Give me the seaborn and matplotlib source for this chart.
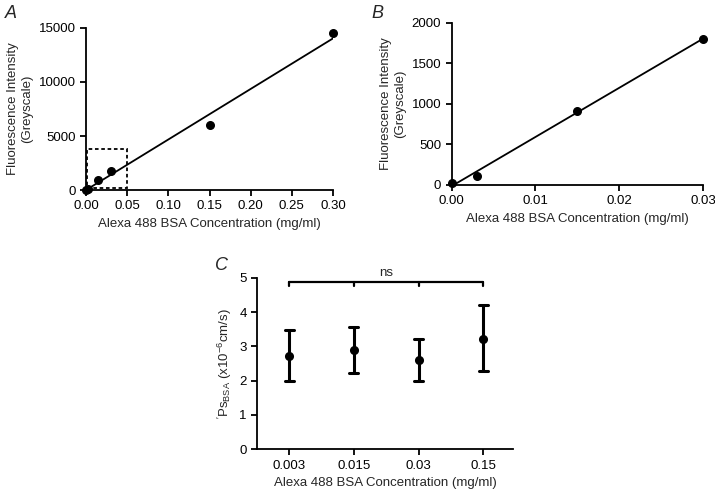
import numpy as np
import pandas as pd
import matplotlib
matplotlib.use("Agg")
import matplotlib.pyplot as plt
import matplotlib.patches as patches
import seaborn as sns

# panel A: full calibration range
conc_a = [0.0, 0.003, 0.015, 0.03, 0.15, 0.30]
fluor_a = [0, 100, 900, 1800, 6000, 14500]

# panel B: low range (dashed box in A)
conc_b = [0.0, 0.003, 0.015, 0.03]
fluor_b = [30, 110, 910, 1800]

# panel C: permeability per concentration (mean with lower/upper bars)
conc_c = ["0.003", "0.015", "0.03", "0.15"]
ps_mean = [2.72, 2.89, 2.60, 3.22]
ps_low = [2.00, 2.21, 2.00, 2.28]
ps_high = [3.48, 3.57, 3.20, 4.19]

sns.set_style("ticks")
plt.rcParams['font.family'] = ['Liberation Sans', 'DejaVu Sans']
plt.rcParams['mathtext.fontset'] = 'custom'
plt.rcParams['mathtext.rm'] = 'Liberation Sans'
plt.rcParams['mathtext.it'] = 'Liberation Sans:italic'
fs = 9.5
lw = 1.3

fig = plt.figure(figsize=(7.15, 4.92), dpi=100)
ax_a = fig.add_axes([0.1203, 0.6138, 0.3455, 0.3293])
ax_b = fig.add_axes([0.6317, 0.6240, 0.3515, 0.3300])
ax_c = fig.add_axes([0.3599, 0.0868, 0.3576, 0.3488])

xlabel = "Alexa 488 BSA Concentration (mg/ml)"
ylabel = "Fluorescence Intensity\n(Greyscale)"


def style_axes(ax):
    sns.despine(ax=ax)
    for s in ['left', 'bottom']:
        ax.spines[s].set_linewidth(lw)
        ax.spines[s].set_color('black')
    ax.tick_params(direction='out', length=4, width=lw, labelsize=fs, colors='black')


# --- A
sns.regplot(x=conc_a, y=fluor_a, ax=ax_a, ci=None, color='black',
            scatter_kws={'s': 30, 'clip_on': False, 'zorder': 3, 'alpha': 1},
            line_kws={'linewidth': lw})
# zoom box marking the range shown in B
ax_a.add_patch(patches.Rectangle((0.001, 150), 0.049, 3650, fill=False, linestyle=(0, (2, 1.5)),
                                 linewidth=lw, edgecolor='black', clip_on=False, zorder=4))
ax_a.set_xlim(0, 0.30)
ax_a.set_ylim(0, 15000)
ax_a.set_xticks(np.arange(0, 0.301, 0.05))
ax_a.set_xticklabels([f"{v:.2f}" for v in np.arange(0, 0.301, 0.05)])
ax_a.set_yticks([0, 5000, 10000, 15000])
ax_a.set_xlabel(xlabel, fontsize=fs)
ax_a.set_ylabel(ylabel, fontsize=fs)
style_axes(ax_a)

# --- B
sns.regplot(x=conc_b, y=fluor_b, ax=ax_b, ci=None, color='black',
            scatter_kws={'s': 30, 'clip_on': False, 'zorder': 3, 'alpha': 1},
            line_kws={'linewidth': lw})
ax_b.set_xlim(0, 0.03)
ax_b.set_ylim(0, 2000)
ax_b.set_xticks([0, 0.01, 0.02, 0.03])
ax_b.set_xticklabels(["0.00", "0.01", "0.02", "0.03"])
ax_b.set_yticks([0, 500, 1000, 1500, 2000])
ax_b.set_xlabel(xlabel, fontsize=fs)
ax_b.set_ylabel(ylabel, fontsize=fs)
style_axes(ax_b)

# --- C: median of (low, mean, high) with full-range bars
df_c = pd.DataFrame({
    'conc': conc_c * 3,
    'ps': ps_low + ps_mean + ps_high,
})
sns.pointplot(data=df_c, x='conc', y='ps', order=conc_c, ax=ax_c, color='black',
              estimator=np.median, errorbar=('pi', 100), linestyle='none',
              capsize=0.14, markersize=4.5, err_kws={'linewidth': 2.2})
ax_c.set_xlim(-0.49, 3.46)
ax_c.set_ylim(0, 5)
ax_c.set_yticks([0, 1, 2, 3, 4, 5])
ax_c.set_xlabel(xlabel, fontsize=fs)
ax_c.set_ylabel(r"$'$Ps$_{\mathregular{BSA}}$ (x10$^{-6}$cm/s)", fontsize=fs)
style_axes(ax_c)

# significance bracket
yb, yt = 4.88, 4.76
n = len(conc_c)
ax_c.plot([0, n - 1], [yb, yb], color='black', linewidth=lw + 0.3, clip_on=False)
for i in range(n):
    ax_c.plot([i, i], [yb, yt], color='black', linewidth=lw + 0.3, clip_on=False)
ax_c.text((n - 1) / 2, yb + 0.08, "ns", ha='center', va='bottom', fontsize=fs)

# panel letters
fig.text(0.007, 0.99, "A", style='italic', fontsize=13, va='top')
fig.text(0.520, 0.99, "B", style='italic', fontsize=13, va='top')
fig.text(0.300, 0.478, "C", style='italic', fontsize=13, va='top')

fig.savefig("out.png", dpi=100)
